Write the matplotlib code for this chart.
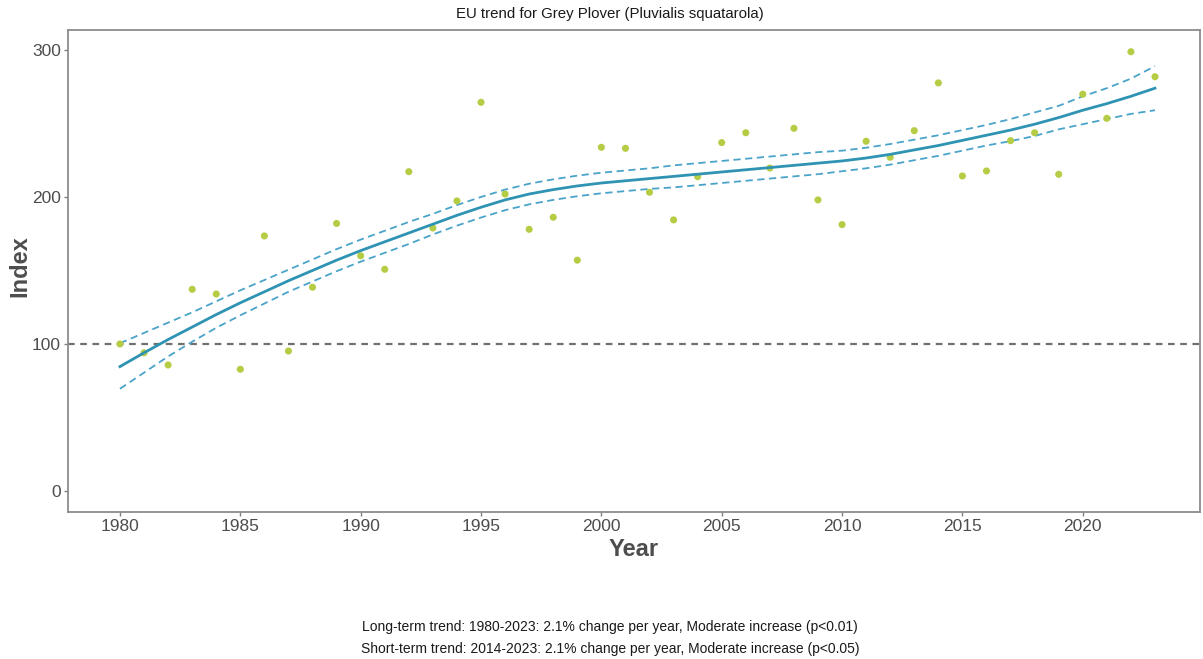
import matplotlib.pyplot as plt

plt.rcParams['font.family'] = ['Liberation Sans', 'DejaVu Sans']

# Yearly index values (points)
years = list(range(1980, 2024))
index = [100, 94, 85.7, 137.2, 134, 82.8, 173.5, 95.2, 138.6, 182,
         160, 150.8, 217.2, 178.9, 197.3, 264.4, 202, 178, 186.2, 157,
         233.8, 233.1, 203.2, 184.4, 213.8, 237, 243.7, 219.7, 246.7, 198,
         181.2, 237.9, 227, 245.1, 277.6, 214.3, 217.7, 238.3, 243.7, 215.4,
         269.9, 253.5, 298.8, 281.8]

# Smoothed trend and confidence band, read per year
trend = [84.6, 94, 103, 111.5, 120, 128, 135.5, 143, 150, 157,
         163.5, 169.5, 175.5, 181.5, 187.5, 193, 198, 202, 205, 207.5,
         209.5, 211, 212.5, 214, 215.5, 217, 218.5, 220, 221.5, 223,
         224.5, 226.5, 229, 232, 235, 238.5, 242, 245.5, 249.5, 254,
         259, 263.5, 268.5, 274]
upper = [100.5, 107.5, 114.5, 121.5, 129, 136.5, 143.5, 150.5, 157.5, 164.5,
         171, 177, 183, 188.5, 194.5, 200, 205, 209, 212, 214.5,
         216.5, 218, 219.5, 221.5, 223, 224.5, 226, 227.5, 229, 230.5,
         231.5, 233.5, 236, 239, 242, 245.5, 249, 253, 257.5, 262,
         268.5, 274, 280.5, 289]
lower = [69.5, 80.5, 91.5, 101.5, 111, 119.5, 127.5, 135.5, 142.5, 149.5,
         156, 162, 168, 174.5, 180.5, 186, 191, 195, 198, 200.5,
         202.5, 204, 205.5, 206.5, 208, 209.5, 211, 212.5, 214, 215.5,
         217.5, 219.5, 222, 225, 228, 231.5, 235, 238, 241.5, 246,
         249.5, 253, 256.5, 259]

xticks = [1980, 1985, 1990, 1995, 2000, 2005, 2010, 2015, 2020]
yticks = [0, 100, 200, 300]

fig = plt.figure(figsize=(12.03, 6.59), dpi=100)
ax = fig.add_axes([0.0565, 0.2231, 0.941, 0.7314])

ax.axhline(100, color='#707070', linestyle=(0, (3, 2.5)), linewidth=1.6, zorder=1)
ax.scatter(years, index, s=26, color='#b5cd45', edgecolors='none', zorder=3)
ax.plot(years, upper, color='#4aa3c9', linestyle=(0, (4, 2.5)), linewidth=1.3, zorder=2)
ax.plot(years, lower, color='#4aa3c9', linestyle=(0, (4, 2.5)), linewidth=1.3, zorder=2)
ax.plot(years, trend, color='#2f93b3', linewidth=2.0, zorder=4)

ax.set_xlim(1977.84, 2024.87)
ax.set_ylim(-14.3, 313.6)
ax.set_xticks(xticks)
ax.set_yticks(yticks)
ax.tick_params(axis='both', colors='#808080', labelcolor='#4d4d4d',
               labelsize=12.5, length=3, width=1, direction='out', pad=2)
for sp in ax.spines.values():
    sp.set_color('#8c8c8c')
    sp.set_linewidth(1.3)

ax.set_xlabel('Year', fontsize=17, fontweight='bold', color='#4d4d4d', labelpad=3)
ax.set_ylabel('Index', fontsize=17, fontweight='bold', color='#4d4d4d')
ax.yaxis.set_label_coords(-0.0424, 0.51)
ax.yaxis.label.set_va('center')

fig.text(0.507, 0.978, 'EU trend for Grey Plover (Pluvialis squatarola)',
         ha='center', va='center', fontsize=10.8, color='#1a1a1a')
fig.text(0.507, 0.048,
         'Long-term trend: 1980-2023: 2.1% change per year, Moderate increase (p<0.01)',
         ha='center', va='center', fontsize=10, color='#1a1a1a')
fig.text(0.507, 0.015,
         'Short-term trend: 2014-2023: 2.1% change per year, Moderate increase (p<0.05)',
         ha='center', va='center', fontsize=10, color='#1a1a1a')

fig.savefig('out.png', dpi=100)
